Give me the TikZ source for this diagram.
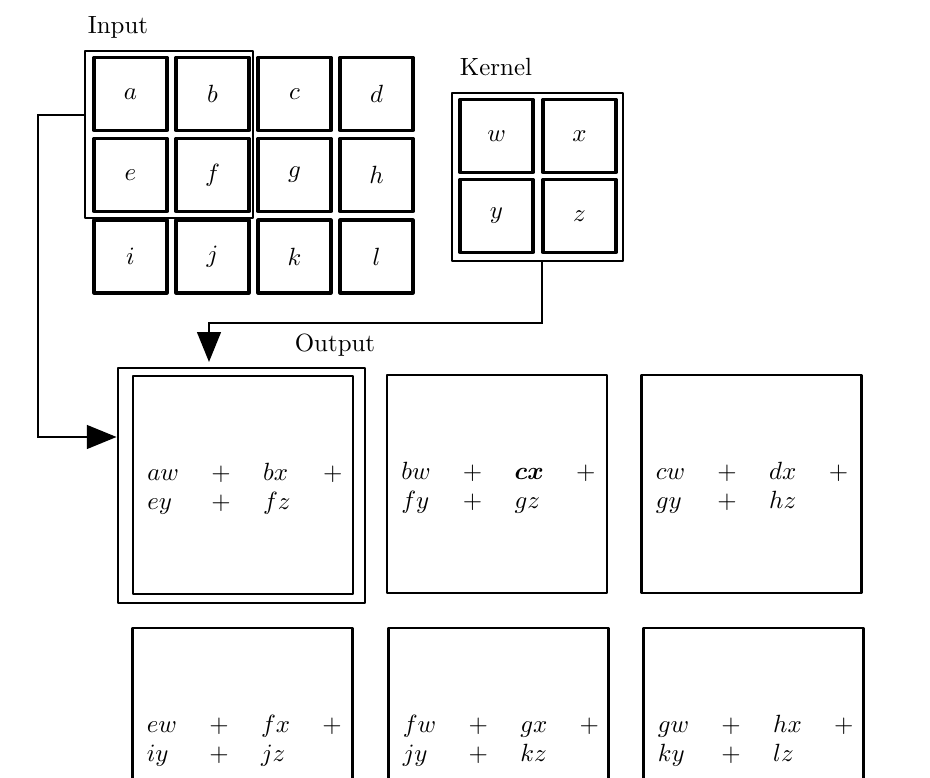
\documentclass[tikz,border=0pt]{standalone}
\usepackage{bm}
\usetikzlibrary{arrows.meta,calc}
\newdimen\pxu \pxu=0.4016pt
\setlength\tabcolsep{6.5pt}
\begin{document}
\begin{tikzpicture}[x=0.4016pt,y=-0.4016pt,
  cellbox/.style={draw,line width=1.25pt,line join=round,inner sep=0pt,
    minimum width=73\pxu,minimum height=73\pxu},
  outbox/.style={draw,line width=1.1pt,line join=round,inner sep=0pt,
    minimum width=220\pxu,minimum height=218\pxu},
  framebox/.style={draw,line width=1.1pt,line join=round,inner sep=0pt},
  sumtext/.style={anchor=west,inner sep=0pt,yshift=-4\pxu,xshift=-1\pxu},
  conn/.style={line width=1.1pt,-{Triangle[length=12pt,width=9.5pt]}},
  title/.style={inner sep=0pt}]
\clip (0,0) rectangle (930,778);
% frames
\node[framebox,minimum width=168\pxu,minimum height=167\pxu] (insel) at (169,134.5) {};
\node[framebox,minimum width=171\pxu,minimum height=168\pxu] (kframe) at (537.5,177) {};
\node[framebox,minimum width=247\pxu,minimum height=235\pxu] (oframe) at (241.5,485.5) {};
% input cells
\node[cellbox] (ca) at (130.5,94) {$a$};
\node[cellbox] (cb) at (212.5,94) {$b$};
\node[cellbox] (cc) at (294.5,94) {$c$};
\node[cellbox] (cd) at (376.5,94) {$d$};
\node[cellbox] (ce) at (130.5,175) {$e$};
\node[cellbox] (cf) at (212.5,175) {$f$};
\node[cellbox] (cg) at (294.5,175) {$g$};
\node[cellbox] (ch) at (376.5,175) {$h$};
\node[cellbox] (ci) at (130.5,256.5) {$i$};
\node[cellbox] (cj) at (212.5,256.5) {$j$};
\node[cellbox] (ck) at (294.5,256.5) {$k$};
\node[cellbox] (cl) at (376.5,256.5) {$l$};
% kernel cells
\node[cellbox] (kw) at (496.5,136) {$w$};
\node[cellbox] (kx) at (579.5,136) {$x$};
\node[cellbox] (ky) at (496.5,216) {$y$};
\node[cellbox] (kz) at (579.5,216) {$z$};
% titles
\node[title] (tin) at (118,27) {Input};
\node[title] (tker) at (496,67) {Kernel};
\node[title] (tout) at (335,345) {Output};
% output boxes
\node[outbox] (o1) at (243,485) {};
\node[outbox] (o2) at (497,484) {};
\node[outbox] (o3) at (751.5,484) {};
\node[outbox] (o4) at (242.5,737) {};
\node[outbox] (o5) at (498.5,737) {};
\node[outbox] (o6) at (753.5,737) {};
\node[sumtext] (s1) at (o1.west) {\begin{tabular}{llll}$aw$ & $+$ & $bx$ & $+$\\ $ey$ & $+$ & $fz$ &\end{tabular}};
\node[sumtext] (s2) at (o2.west) {\begin{tabular}{llll}$bw$ & $+$ & $\bm{cx}$ & $+$\\ $fy$ & $+$ & $gz$ &\end{tabular}};
\node[sumtext] (s3) at (o3.west) {\begin{tabular}{llll}$cw$ & $+$ & $dx$ & $+$\\ $gy$ & $+$ & $hz$ &\end{tabular}};
\node[sumtext] (s4) at (o4.west) {\begin{tabular}{llll}$ew$ & $+$ & $fx$ & $+$\\ $iy$ & $+$ & $jz$ &\end{tabular}};
\node[sumtext] (s5) at (o5.west) {\begin{tabular}{llll}$fw$ & $+$ & $gx$ & $+$\\ $jy$ & $+$ & $kz$ &\end{tabular}};
\node[sumtext] (s6) at (o6.west) {\begin{tabular}{llll}$gw$ & $+$ & $hx$ & $+$\\ $ky$ & $+$ & $lz$ &\end{tabular}};
% connectors
\coordinate (inA) at (insel.west |- 0,115);
\coordinate (outA) at (oframe.west |- 0,437);
\coordinate (kB) at (542,261);
\coordinate (outB) at (209,362);
\draw[conn] (inA) -- (38,115) |- (outA);
\draw[conn,line width=0.9pt] (kB) |- ($(outB)+(0,-39)$) -- (outB);
\end{tikzpicture}
\end{document}
